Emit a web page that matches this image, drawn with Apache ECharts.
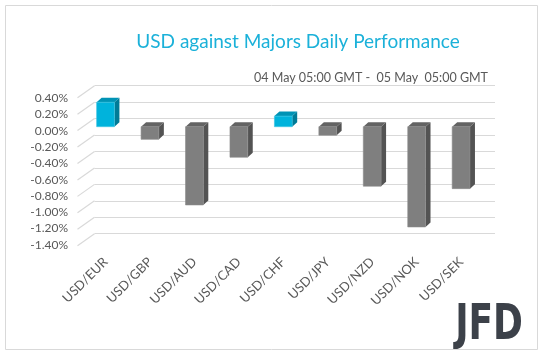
<!DOCTYPE html>
<html>
<head>
<meta charset="utf-8">
<script src="https://cdn.jsdelivr.net/npm/echarts@6/dist/echarts.min.js"></script>
<style>
  html, body { margin: 0; padding: 0; background: #fff; }
  #chart { width: 538px; height: 351px; }
</style>
</head>
<body>
<div id="chart"></div>
<script>
// daily change in %
const pairs = ['USD/EUR', 'USD/GBP', 'USD/AUD', 'USD/CAD', 'USD/CHF', 'USD/JPY', 'USD/NZD', 'USD/NOK', 'USD/SEK'];
const changes = [0.30, -0.155, -0.96, -0.375, 0.13, -0.105, -0.73, -1.23, -0.76];
const ticks = [0.4, 0.2, 0, -0.2, -0.4, -0.6, -0.8, -1.0, -1.2, -1.4];

const font = 'Lato, "Open Sans", sans-serif';
const DX = 5, DY = 4.5;  // bar depth

const myChart = echarts.init(document.getElementById('chart'), null, {renderer: 'canvas'});

function bar3d(params, api) {
  const i = api.value(0);
  const v = api.value(1);
  const base = api.coord([i, 0]);
  const end = api.coord([i, v]);
  const w = api.size([1, 0])[0] * 0.4;
  const x0 = base[0] - w / 2;
  const yTop = Math.min(base[1], end[1]);
  const yBot = Math.max(base[1], end[1]);
  const pos = v >= 0;
  const cFront = pos ? '#00b3dc' : '#7f7f7f';
  const cTop = pos ? '#0093b5' : '#636363';
  const cSide = pos ? '#007b97' : '#535353';
  return {
    type: 'group',
    children: [
      {type: 'polygon', shape: {points: [[x0 + w, yTop], [x0 + w + DX, yTop - DY], [x0 + w + DX, yBot - DY], [x0 + w, yBot]]},
        style: {fill: cSide}},
      {type: 'polygon', shape: {points: [[x0, yTop], [x0 + w, yTop], [x0 + w + DX, yTop - DY], [x0 + DX, yTop - DY]]},
        style: {fill: cTop}},
      {type: 'rect', shape: {x: x0, y: yTop, width: w, height: yBot - yTop},
        style: {fill: cFront, stroke: pos ? '#35c3e3' : '#8c8c8c', lineWidth: 0.6}}
    ]
  };
}

myChart.setOption({
  animation: false,
  title: [
    {
      text: 'USD against Majors Daily Performance',
      left: 293, top: 27, textAlign: 'center',
      textStyle: {color: '#1bb1d9', fontSize: 19, fontWeight: 'normal', fontFamily: font}
    },
    {
      text: '04 May 05:00 GMT -  05 May  05:00 GMT',
      right: 45, top: 66,
      textStyle: {color: '#595959', fontSize: 12.5, fontWeight: 'normal', fontFamily: font}
    }
  ],
  grid: [
    {left: 78, top: 98.3, width: 10, height: 146.4},   // labels
    {left: 94.5, top: 85.7, width: 400.5, height: 148}, // back wall
    {left: 83.3, top: 94.1, width: 400, height: 146.7}  // bars
  ],
  xAxis: [
    {gridIndex: 0, type: 'value', min: 0, max: 1, show: false},
    {gridIndex: 1, type: 'value', min: 0, max: 1, show: false},
    {
      gridIndex: 2, type: 'category', data: pairs,
      axisLine: {show: false}, axisTick: {show: false},
      axisLabel: {rotate: 45, margin: 19, color: '#595959', fontSize: 13, fontFamily: font, interval: 0}
    }
  ],
  yAxis: [
    {
      gridIndex: 0, type: 'value', min: -1.4, max: 0.4, interval: 0.2,
      axisLine: {show: false}, axisTick: {show: false}, splitLine: {show: false},
      axisLabel: {margin: 10, color: '#595959', fontSize: 12, fontFamily: font,
        formatter: (v) => v.toFixed(2) + '%'}
    },
    {
      gridIndex: 1, type: 'value', min: -1.4, max: 0.4, interval: 0.2,
      axisLine: {show: false}, axisTick: {show: false}, axisLabel: {show: false},
      splitLine: {lineStyle: {color: '#d9d9d9', width: 1.2}}
    },
    {gridIndex: 2, type: 'value', min: -1.4, max: 0.4, show: false}
  ],
  series: [
    {
      name: 'floor',
      type: 'custom',
      xAxisIndex: 1, yAxisIndex: 1,
      data: ticks.map((t) => [0, t]),
      renderItem: (params, api) => {
        const p = api.coord([0, api.value(1)]);
        return {
          type: 'line',
          shape: {x1: p[0] - 17, y1: p[1] + 12, x2: p[0], y2: p[1]},
          style: {stroke: '#d9d9d9', lineWidth: 1.2}
        };
      },
      silent: true
    },
    {
      name: 'change',
      type: 'custom',
      xAxisIndex: 2, yAxisIndex: 2,
      data: changes.map((v, i) => [i, v]),
      renderItem: bar3d
    }
  ],
  graphic: [
    {
      type: 'rect', left: 3, top: 3, silent: true,
      shape: {width: 532, height: 344},
      style: {fill: 'none', stroke: '#d9d9d9', lineWidth: 1}
    },
    {
      type: 'text', x: 523, y: 326, scaleX: 0.8, silent: true,
      style: {text: 'JFD', fill: '#3c4149', fontSize: 50, fontWeight: 'bold',
        align: 'right', verticalAlign: 'middle',
        fontFamily: '"DejaVu Sans Condensed", sans-serif'}
    }
  ]
});
</script>
</body>
</html>
